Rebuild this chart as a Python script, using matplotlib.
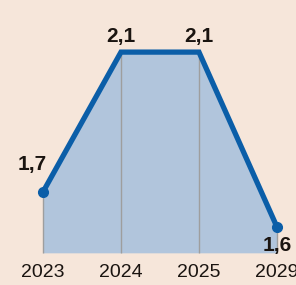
import matplotlib
matplotlib.use("Agg")
import matplotlib.pyplot as plt

years = ["2023", "2024", "2025", "2029"]
values = [1.7, 2.1, 2.1, 1.6]
labels = ["1,7", "2,1", "2,1", "1,6"]

bg = "#f6e6da"
line_col = "#0b5ea8"
fill_col = "#b1c5dc"
base = 1.526

fig = plt.figure(figsize=(2.96, 2.85), dpi=100)
fig.patch.set_facecolor(bg)
ax = fig.add_axes([0, 0, 1, 1])
ax.set_facecolor(bg)

x = list(range(len(values)))
ax.fill_between(x, base, values, color=fill_col, lw=0, zorder=1)
ax.vlines(x, base, values, color="#9e9e9e", lw=1, zorder=2)
ax.plot(x, values, color=line_col, lw=3.8, solid_joinstyle="miter", zorder=3)
ax.plot([x[0], x[-1]], [values[0], values[-1]], "o", color=line_col, ms=7, zorder=4)

font = ["Liberation Sans", "DejaVu Sans"]
# label offsets in data units: (dx, dy)
offsets = [(-0.14, 0.08), (0, 0.045), (0, 0.045), (0, -0.053)]
for xi, v, lab, (dx, dy) in zip(x, values, labels, offsets):
    ax.text(xi + dx, v + dy, lab, ha="center", va="center",
            fontsize=15, fontweight="bold", family=font, color="#1a1410")

for xi, yr in zip(x, years):
    ax.text(xi, 1.469, yr, ha="center", va="center", fontsize=14, family=font, color="#1a1410")

ax.set_xlim(-0.551, 3.244)
ax.set_ylim(1.434, 2.249)
ax.axis("off")

fig.savefig("out.png", dpi=100, facecolor=bg)
